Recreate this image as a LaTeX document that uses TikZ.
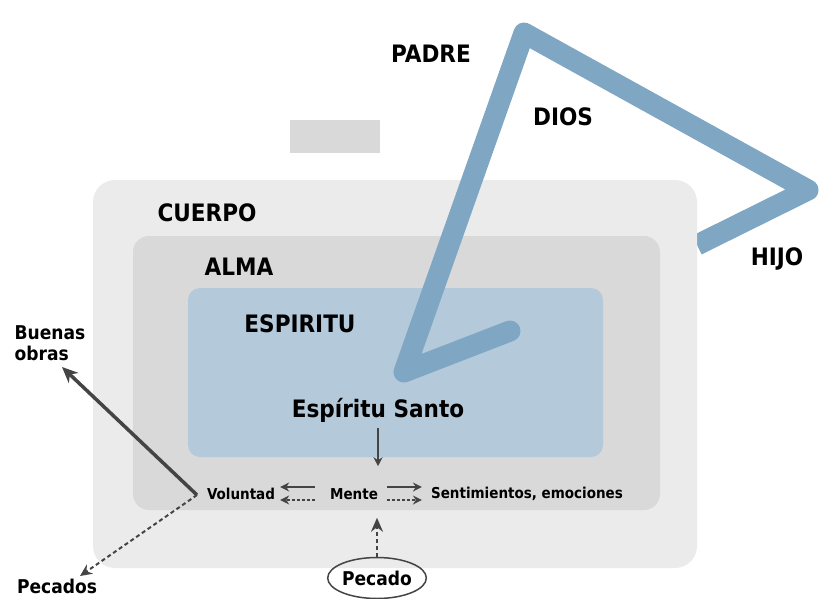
\documentclass[tikz,border=0pt]{standalone}
\usepackage{fontspec}
\setmainfont{DejaVu Sans Condensed}
\usetikzlibrary{arrows.meta,shapes.geometric}
\definecolor{cuerpogris}{HTML}{EBEBEB}
\definecolor{almagris}{HTML}{D9D9D9}
\definecolor{espirituazul}{HTML}{B4C9D9}
\definecolor{diosazul}{HTML}{7FA7C4}
\definecolor{flecha}{HTML}{444444}
\begin{document}
\begin{tikzpicture}[x=1pt, y=-1pt,
        titulo/.style={font=\bfseries\fontsize{24}{26}\selectfont, inner sep=0pt},
        etiqueta/.style={font=\bfseries\fontsize{15}{16}\selectfont, inner sep=0pt},
        lado/.style={font=\bfseries\fontsize{19}{20}\selectfont, inner sep=0pt, align=left},
        flechafina/.style={draw=flecha, line width=2.2pt, -{Stealth[length=9pt,width=9pt]}},
        flechagruesa/.style={draw=flecha, line width=3.5pt, -{Stealth[length=16pt,width=14pt]}}]
    \useasboundingbox (0,0) rectangle (821,599);

    % trazo de la trinidad (empieza detras del cuerpo)
    \draw[diosazul, line width=21pt, line join=round] (697,245) -- (808,190) -- (524,33);

    % cajas
    \fill[cuerpogris, rounded corners=22pt] (93,180) rectangle (697,568);
    \fill[almagris, rounded corners=16pt] (133,236) rectangle (660,510);
    \fill[espirituazul, rounded corners=12pt] (188,288) rectangle (603,457);
    \fill[almagris] (290,120) rectangle (380,153);

    \draw[diosazul, line width=21pt, line join=round, line cap=round] (524,33) -- (404,372) -- (510,331);

    % textos
    \node[titulo] (padre) at (431,54) {PADRE};
    \node[titulo] (dios) at (563,117) {DIOS};
    \node[titulo] (hijo) at (777,259) {HIJO};
    \node[titulo] (cuerpo) at (207,213) {CUERPO};
    \node[titulo] (alma) at (239,267) {ALMA};
    \node[titulo] (espiritu) at (300,324) {ESPIRITU};
    \node[titulo] (santo) at (378,410) {Espíritu Santo};

    \node[etiqueta] (voluntad) at (241,494) {Voluntad};
    \node[etiqueta] (mente) at (354,494) {Mente};
    \node[etiqueta] (sentir) at (527,494) {Sentimientos, emociones};
    \node[lado, draw=flecha, line width=1.5pt, ellipse, minimum width=81pt, minimum height=41pt, inner sep=0pt] (pecado) at (377,578) {Pecado};

    \node[lado] (buenas) at (50,343) {Buenas\\[1pt]obras};
    \node[lado] (pecados) at (57,586) {Pecados};

    % flechas
    \coordinate (cruce) at (197,495);
    \coordinate (buenas tip) at (62,367);
    \coordinate (pecados tip) at (80,576);
    \draw[flechagruesa] (cruce) -- (buenas tip);
    \draw[flechafina, line width=2pt, dash pattern=on 4pt off 3pt, -{Stealth[length=12pt,width=11pt]}] (cruce) -- (pecados tip);
    \draw[flechafina, line width=1.6pt] ([yshift=-6pt]santo.south) -- ([yshift=22pt]santo.south |- mente.north);
    \draw[flechafina, line width=2pt, dash pattern=on 4pt off 3pt, -{Stealth[length=14pt,width=12pt]}] (pecado.north) -- ([yshift=-18pt]pecado.north |- mente.south);

    \draw[flechafina] ([xshift=-15pt, yshift=7pt]mente.west) -- ([xshift=5pt, yshift=7pt]voluntad.east);
    \draw[flechafina, dash pattern=on 3pt off 2pt] ([xshift=-15pt, yshift=-6pt]mente.west) -- ([xshift=5pt, yshift=-6pt]voluntad.east);
    \draw[flechafina] ([xshift=9pt, yshift=7pt]mente.east) -- ([xshift=-9pt, yshift=7pt]sentir.west);
    \draw[flechafina, dash pattern=on 3pt off 2pt] ([xshift=9pt, yshift=-6pt]mente.east) -- ([xshift=-9pt, yshift=-6pt]sentir.west);
\end{tikzpicture}
\end{document}
